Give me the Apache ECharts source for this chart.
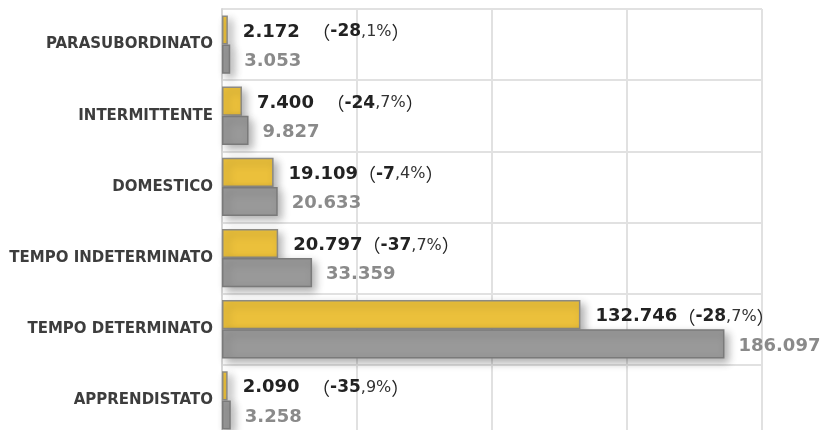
<!DOCTYPE html>
<html>
<head>
<meta charset="utf-8">
<script src="https://cdn.jsdelivr.net/npm/echarts@6/dist/echarts.min.js"></script>
<style>html,body{margin:0;padding:0;background:#fff;}#c{width:826px;height:430px;}</style>
</head>
<body>
<div id="c"></div>
<script>
var categories = ["PARASUBORDINATO", "INTERMITTENTE", "DOMESTICO", "TEMPO INDETERMINATO", "TEMPO DETERMINATO", "APPRENDISTATO"];
var currentValues = [2172, 7400, 19109, 20797, 132746, 2090];
var previousValues = [3053, 9827, 20633, 33359, 186097, 3258];
var changePct = [-28.1, -24.7, -7.4, -37.7, -28.7, -35.9];
var xTicks = [0, 50000, 100000, 150000, 200000];

function fmtIt(n) {
  return String(n).replace(/\B(?=(\d{3})+(?!\d))/g, '.');
}

var chart = echarts.init(document.getElementById('c'), null, {renderer: 'canvas'});
var FONT = 'DejaVu Sans';
chart.setOption({
  animation: false,
  backgroundColor: '#ffffff',
  grid: {left: 222, top: 9, width: 540, height: 427, outerBoundsMode: 'none', containLabel: false},
  xAxis: {
    type: 'value', min: xTicks[0], max: xTicks[xTicks.length - 1], interval: xTicks[1] - xTicks[0],
    axisLabel: {show: false}, axisLine: {show: false}, axisTick: {show: false},
    splitLine: {show: true, lineStyle: {color: '#e1e1e1', width: 2}}
  },
  yAxis: {
    type: 'category', inverse: true, data: categories,
    axisLine: {show: true, lineStyle: {color: '#d6d6d6', width: 2}},
    axisTick: {show: false},
    splitLine: {show: true, lineStyle: {color: '#e1e1e1', width: 2}},
    axisLabel: {fontFamily: FONT, fontWeight: 'bold', fontSize: 15, color: '#3d3d3d', margin: 9}
  },
  series: [
    {
      type: 'bar', name: 'current', data: currentValues,
      barGap: '0%', barCategoryGap: '18%',
      itemStyle: {color: '#ebc03b', borderColor: '#8c8a84', borderWidth: 1.5,
        shadowBlur: 8, shadowOffsetX: 4, shadowOffsetY: 4, shadowColor: 'rgba(0,0,0,0.3)'},
      label: {
        show: true, position: 'right', distance: 15, offset: [0, 2],
        formatter: function (p) {
          var v = p.value;
          var s = fmtIt(v);
          var pad = s.length <= 5 ? '  ' : '';
          var pc = changePct[p.dataIndex].toFixed(1).replace('.', ',');
          var parts = pc.split(',');
          return '{n|' + s + pad + '}{p|（}{b|' + parts[0] + '}{r|,' + parts[1] + '%}{p|）}';
        },
        rich: {
          n: {fontFamily: FONT, fontWeight: 'bold', fontSize: 18, color: '#222222'},
          p: {fontFamily: 'Noto Sans CJK SC', fontWeight: 'normal', fontSize: 18, color: '#222222'},
          b: {fontFamily: FONT, fontWeight: 'bold', fontSize: 17, color: '#222222'},
          r: {fontFamily: FONT, fontWeight: 'normal', fontSize: 16, color: '#333333'}
        }
      }
    },
    {
      type: 'bar', name: 'previous', data: previousValues,
      barGap: '0%', barCategoryGap: '18%',
      itemStyle: {color: '#999999', borderColor: '#7a7a7a', borderWidth: 1.5,
        shadowBlur: 8, shadowOffsetX: 4, shadowOffsetY: 4, shadowColor: 'rgba(0,0,0,0.3)'},
      label: {
        show: true, position: 'right', distance: 14, offset: [0, 2],
        formatter: function (p) { return fmtIt(p.value); },
        fontFamily: FONT, fontWeight: 'bold', fontSize: 18, color: '#8a8a8a'
      }
    }
  ]
});
</script>
</body>
</html>
